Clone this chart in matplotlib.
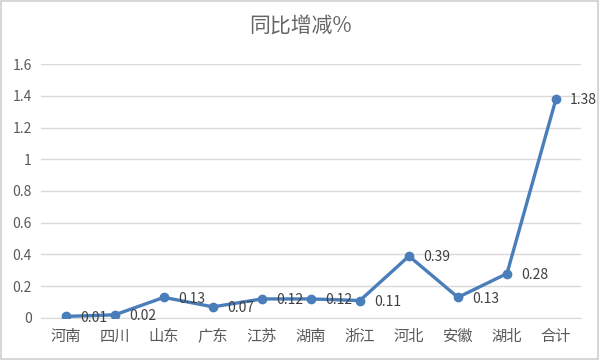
import matplotlib
matplotlib.use('Agg')
import matplotlib.pyplot as plt
from matplotlib.patches import Rectangle

plt.rcParams['font.family'] = ['Noto Sans CJK SC', 'DejaVu Sans']

provinces = ['河南', '四川', '山东', '广东', '江苏', '湖南', '浙江', '河北', '安徽', '湖北', '合计']
yoy_change = [0.01, 0.02, 0.13, 0.07, 0.12, 0.12, 0.11, 0.39, 0.13, 0.28, 1.38]
y_ticks = [0, 0.2, 0.4, 0.6, 0.8, 1, 1.2, 1.4, 1.6]
y_tick_labels = ['0', '0.2', '0.4', '0.6', '0.8', '1', '1.2', '1.4', '1.6']

fig = plt.figure(figsize=(6, 3.6), dpi=100)
ax = fig.add_axes([0.069, 0.1167, 0.8985, 0.7055])

x = list(range(len(provinces)))
ax.plot(x, yoy_change, color='#4A7EBB', linewidth=2.4, marker='o', markersize=6, zorder=3)

# data labels to the right of each point
for xi, v in zip(x, yoy_change):
    ax.annotate(f'{v:g}', (xi, v), xytext=(10, -1), textcoords='offset points',
                ha='left', va='center', fontsize=10, color='#404040')

ax.set_xlim(-0.5, len(provinces) - 0.5)
ax.set_ylim(0, 1.6)
ax.set_xticks(x)
ax.set_xticklabels(provinces, fontsize=11, color='#595959')
ax.set_yticks(y_ticks)
ax.set_yticklabels(y_tick_labels, fontsize=10, color='#595959')
ax.tick_params(length=0, pad=7)
ax.grid(axis='y', color='#D9D9D9', linewidth=1)
ax.set_axisbelow(True)
for side in ['top', 'right', 'left']:
    ax.spines[side].set_visible(False)
ax.spines['bottom'].set_color('#D9D9D9')

fig.suptitle('同比增减%', y=0.96, fontsize=15, color='#666666')

fig.patches.append(Rectangle((0.002, 0.003), 0.995, 0.994, transform=fig.transFigure,
                             fill=False, edgecolor='#D0D0D0', linewidth=1.2))

fig.savefig('out.png', dpi=100)
